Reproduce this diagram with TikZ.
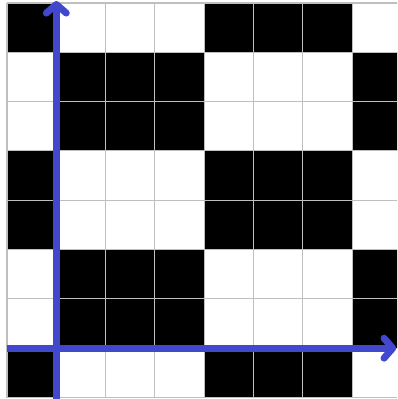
\documentclass[tikz,border=0pt]{standalone}
\usetikzlibrary{arrows.meta}
\definecolor{axisblue}{RGB}{66,72,206}

\begin{document}
\begin{tikzpicture}[
	x=49.3pt*0.75, y=49.3pt*0.75,
	cell/.style={fill=black},
	gridline/.style={draw=black!25, line width=0.8pt},
	axis/.style={
	  draw=axisblue,
	  line width=5.2pt,
	  -{Straight Barb[round, length=6.5pt, width=15pt]}
	}
	]
	\useasboundingbox (-0.142,-0.03) rectangle (7.91,8.06);
	\clip (-0.142,-0.03) rectangle (7.91,8.06);
	% black squares
	\foreach \r in {0,3,4,7}
	  \foreach \c in {0,4,5,6}
	    \fill[cell] (\c,\r) rectangle ++(1,1);
	\foreach \r in {1,2,5,6}
	  \foreach \c in {1,2,3,7}
	    \fill[cell] (\c,\r) rectangle ++(1,1);
	\draw[gridline, step={(1,1)}] (0,0) grid (8,8);
	% axes
	\coordinate (xstart) at (0,1);
	\coordinate (xend) at (7.89,1);
	\coordinate (ystart) at (1,-0.03);
	\coordinate (yend) at (1,8.04);
	\draw[axis] (xstart) -- (xend);
	\draw[axis] (ystart) -- (yend);
\end{tikzpicture}
\end{document}
